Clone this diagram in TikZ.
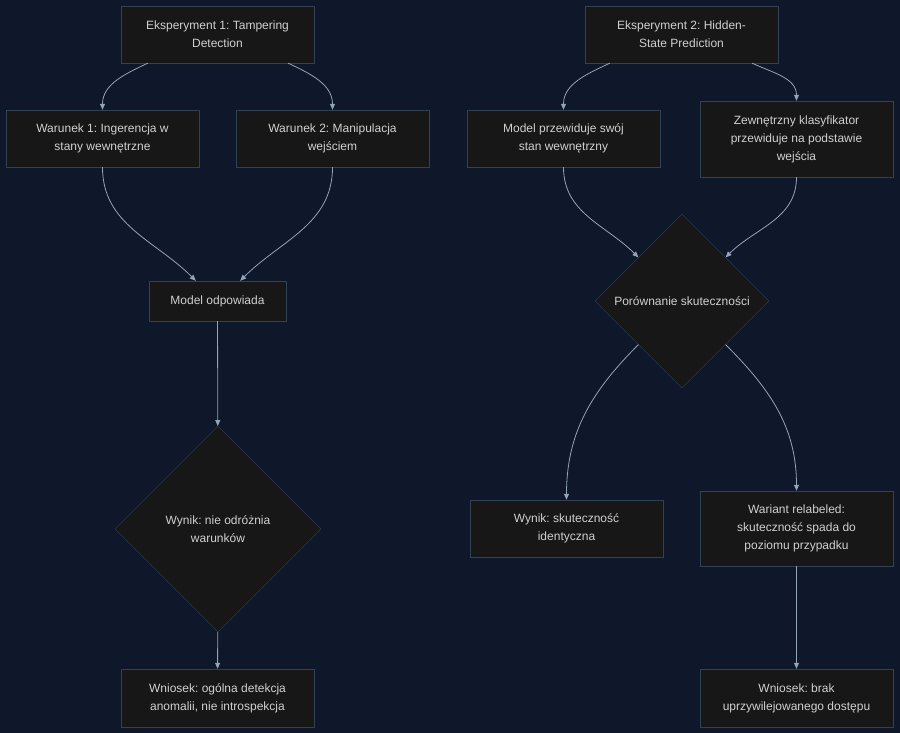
\documentclass[tikz,border=0pt]{standalone}
\usepackage{fontspec}
\setmainfont{Liberation Sans}
\usetikzlibrary{arrows.meta, shapes.geometric}
\definecolor{bgnavy}{HTML}{0F172A}
\definecolor{boxfill}{HTML}{171717}
\definecolor{boxline}{HTML}{334155}
\definecolor{linkgray}{HTML}{94A3B8}
\definecolor{txtgray}{HTML}{D0D0D0}
\frenchspacing

\begin{document}
\begin{tikzpicture}[x=1pt, y=-1pt,
    box/.style={draw=boxline, fill=boxfill, text=txtgray, align=center,
      minimum width=193pt, minimum height=57pt, inner sep=0pt,
      font=\fontsize{12}{18}\selectfont},
    decision/.style={diamond, draw=boxline, fill=boxfill, text=txtgray,
      align=center, inner sep=0pt, font=\fontsize{12}{18}\selectfont},
    link/.style={draw=linkgray, line width=0.8pt,
      -{Triangle[length=6pt, width=5pt]}}]
      \fill[bgnavy] (0,0) rectangle (900,733);
      \useasboundingbox (0,0) rectangle (900,733);
      % Experiment 1
      \node[box] (exp1) at (217.5, 34.5) {Eksperyment 1: Tampering\\Detection};
      \node[box] (cond1) at (102.5, 138.5) {Warunek 1: Ingerencja w\\stany wewnętrzne};
      \node[box] (cond2) at (332.5, 138.5) {Warunek 2: Manipulacja\\wejściem};
      \node[box, minimum width=137pt, minimum height=40pt] (answer) at (217.5, 301) {Model odpowiada};
      \node[decision, minimum width=206pt, minimum height=206pt] (result1) at (218, 529)
        {Wynik: nie odróżnia\\warunków};
      \node[box, minimum height=58pt] (concl1) at (217.5, 698)
        {Wniosek: ogólna detekcja\\anomalii, nie introspekcja};
      % Experiment 2
      \node[box] (exp2) at (681.5, 34.5) {Eksperyment 2: Hidden-\\State Prediction};
      \node[box] (selfpred) at (563.5, 138.5) {Model przewiduje swój\\stan wewnętrzny};
      \node[box, minimum height=76pt] (extclf) at (796.5, 139)
        {Zewnętrzny klasyfikator\\przewiduje na podstawie\\wejścia};
      \node[decision, minimum width=174pt, minimum height=174pt] (compare) at (682, 301)
        {Porównanie skuteczności};
      \node[box] (result2) at (566.5, 528.5) {Wynik: skuteczność\\identyczna};
      \node[box, minimum height=75pt] (relabel) at (796.5, 528.5)
        {Wariant relabeled:\\skuteczność spada do\\poziomu przypadku};
      \node[box, minimum height=58pt] (concl2) at (796.5, 698)
        {Wniosek: brak\\uprzywilejowanego dostępu};
      % links
      \draw[link] ([xshift=27pt]exp1.south west) to[out=-155, in=90] (cond1.north);
      \draw[link] ([xshift=-26pt]exp1.south east) to[out=-25, in=90] (cond2.north);
      \draw[link] (cond1.south) to[out=-90, in=135] ([xshift=47pt]answer.north west);
      \draw[link] (cond2.south) to[out=-90, in=45] ([xshift=-46pt]answer.north east);
      \draw[link] (answer) -- (result1);
      \draw[link] (result1) -- (concl1);
      \draw[link] ([xshift=25pt]exp2.south west) to[out=-155, in=90] (selfpred.north);
      \draw[link] ([xshift=-26pt]exp2.south east) to[out=-25, in=90] (extclf.north);
      \draw[link] (selfpred.south) to[out=-90, in=135] (compare.north west);
      \draw[link] (extclf.south) to[out=-90, in=45] (compare.north east);
      \draw[link] (compare.south west) to[out=-135, in=90] (result2.north);
      \draw[link] (compare.south east) to[out=-45, in=90] (relabel.north);
      \draw[link] (relabel) -- (concl2);
\end{tikzpicture}
\end{document}
